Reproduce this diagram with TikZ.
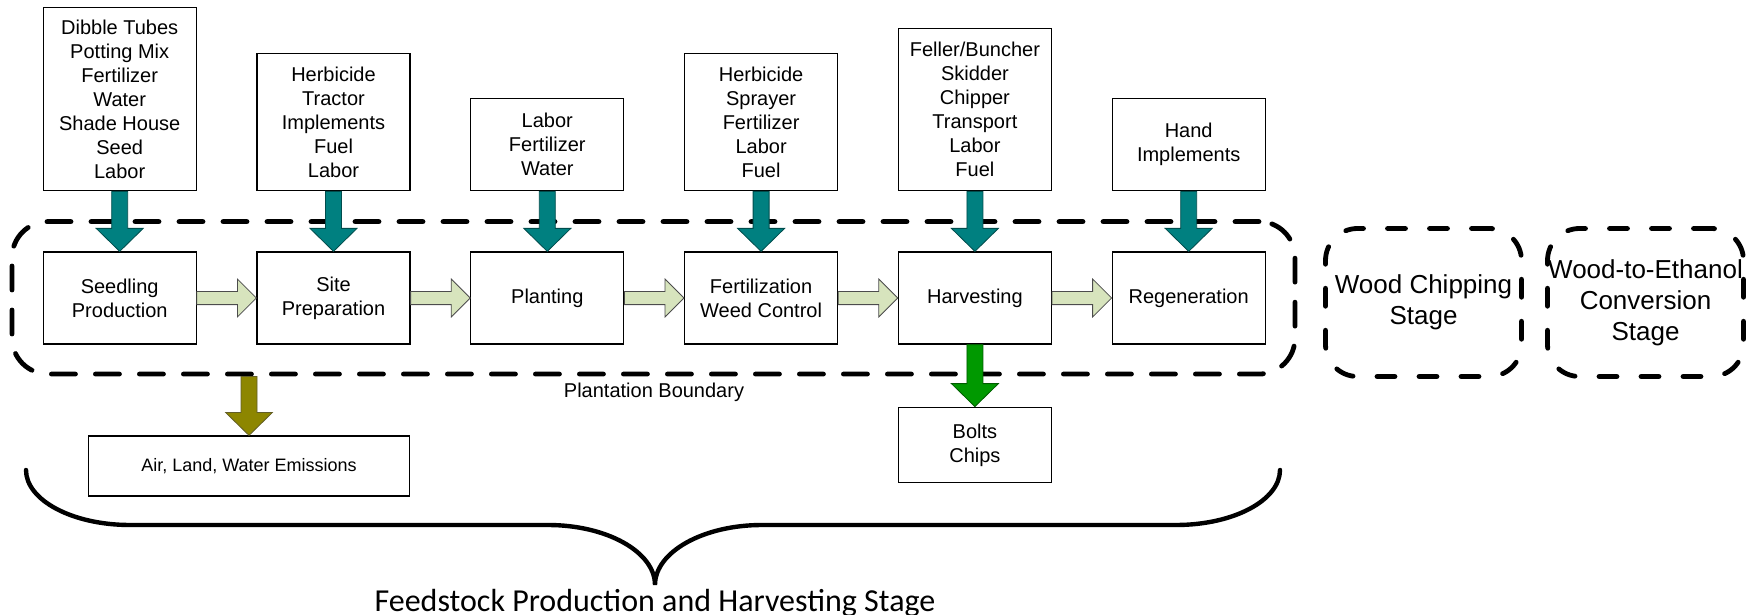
\documentclass[tikz,border=0pt]{standalone}
\usepackage{fontspec}
\setmainfont{Liberation Sans}
\newfontfamily\calfont{Carlito}
\usepackage{tikz}
\usetikzlibrary{positioning,calc}

\definecolor{flowfill}{HTML}{D7E4BD}
\definecolor{harvgreen}{HTML}{009900}

\newcommand{\blockdown}[3]{%
  \path[#1] let \p1=#2, \p2=#3 in
    (\x1-4pt,\y1) -- (\x1-4pt,\y2+11.5pt) -- (\x1-11.75pt,\y2+11.5pt)
    -- (\x1,\y2) -- (\x1+11.75pt,\y2+11.5pt) -- (\x1+4pt,\y2+11.5pt)
    -- (\x1+4pt,\y1) -- cycle;}
\newcommand{\blockright}[3]{%
  \path[#1] let \p1=#2, \p2=#3 in
    (\x1,\y1-3.3pt) -- (\x2-9.5pt,\y1-3.3pt) -- (\x2-9.5pt,\y1-9.5pt)
    -- (\x2,\y1) -- (\x2-9.5pt,\y1+9.5pt) -- (\x2-9.5pt,\y1+3.3pt)
    -- (\x1,\y1+3.3pt) -- cycle;}

\begin{document}
\begin{tikzpicture}[
  x=0.5pt, y=-0.5pt,
  node distance=30pt and 29.8pt,
  every node/.style={font=\fontsize{10}{12}\selectfont, align=center},
  proc/.style={draw, line width=0.6pt, minimum width=76.5pt,
    minimum height=46pt, inner sep=0pt},
  inbox/.style={draw, line width=0.6pt, minimum width=76.5pt, inner sep=0pt},
  boundary/.style={draw, line width=2.4pt, dash pattern=on 12pt off 10pt,
    line cap=round, rounded corners=18pt, minimum width=641.5pt,
    minimum height=76.25pt, inner sep=0pt},
  stage/.style={draw, line width=2.4pt, dash pattern=on 9pt off 12pt,
    line cap=round, rounded corners=16pt, minimum width=98pt,
    minimum height=74pt, inner sep=0pt, font=\fontsize{13}{15.5}\selectfont},
  flow/.style={fill=flowfill, draw=black!70, line width=0.4pt},
  feed/.style={fill=teal, draw=teal!60!black, line width=0.4pt},
  waste/.style={fill=olive, draw=olive!60!black, line width=0.4pt},
  prod/.style={fill=harvgreen, draw=harvgreen!60!black, line width=0.4pt},
  brace/.style={line width=2.2pt, line cap=round}
]
  \useasboundingbox (0,0) rectangle (1758,615);

  \node[boundary] (plantbd) at (653.5,297.8) {};
  \node (boundlbl) at (654,392) {Plantation Boundary};

  \node[proc] (seed) at (119.7,298) {Seedling\\Production};
  \node[proc, right=of seed] (site) {Site\\Preparation};
  \node[proc, right=of site] (plant) {Planting};
  \node[proc, right=of plant] (fert) {Fertilization\\Weed Control};
  \node[proc, right=of fert] (harv) {Harvesting};
  \node[proc, right=of harv] (regen) {Regeneration};

  \node[inbox, minimum height=91.5pt, above=of seed] (seedin)
    {Dibble Tubes\\Potting Mix\\Fertilizer\\Water\\Shade House\\Seed\\Labor};
  \node[inbox, minimum height=68.5pt, above=of site] (sitein)
    {Herbicide\\Tractor\\Implements\\Fuel\\Labor};
  \node[inbox, minimum height=46pt, above=of plant] (plantin)
    {Labor\\Fertilizer\\Water};
  \node[inbox, minimum height=68.5pt, above=of fert] (fertin)
    {Herbicide\\Sprayer\\Fertilizer\\Labor\\Fuel};
  \node[inbox, minimum height=81pt, above=of harv] (harvin)
    {Feller/Buncher\\Skidder\\Chipper\\Transport\\Labor\\Fuel};
  \node[inbox, minimum height=46pt, above=of regen] (regenin)
    {Hand\\Implements};

  \node[inbox, minimum width=160.5pt, minimum height=30pt,
    font=\fontsize{9}{11}\selectfont] (emis) at (249,466)
    {Air, Land, Water Emissions};
  \node[inbox, minimum height=37.8pt, below=31pt of harv] (bolts)
    {Bolts\\Chips};

  \node[stage] (chip) at (1423.5,302.5) {Wood Chipping\\Stage};
  \node[stage] (conv) at (1645.5,302.5) {Wood-to-Ethanol\\Conversion\\Stage};

  \blockdown{feed}{(seedin.south)}{(seed.north)}
  \blockdown{feed}{(sitein.south)}{(site.north)}
  \blockdown{feed}{(plantin.south)}{(plant.north)}
  \blockdown{feed}{(fertin.south)}{(fert.north)}
  \blockdown{feed}{(harvin.south)}{(harv.north)}
  \blockdown{feed}{(regenin.south)}{(regen.north)}

  \blockright{flow}{(seed.east)}{(site.west)}
  \blockright{flow}{(site.east)}{(plant.west)}
  \blockright{flow}{(plant.east)}{(fert.west)}
  \blockright{flow}{(fert.east)}{(harv.west)}
  \blockright{flow}{(harv.east)}{(regen.west)}

  \blockdown{waste}{(plantbd.south -| emis.north)}{(emis.north)}
  \blockdown{prod}{(harv.south)}{(bolts.north)}

  \draw[brace] (26,470) .. controls (26,500) and (72,525) .. (130,525)
    -- (548,525) .. controls (607,525) and (655,552) .. (655,585)
    .. controls (655,552) and (703,525) .. (762,525)
    -- (1176,525) .. controls (1234,525) and (1280,500) .. (1280,470);

  \node[anchor=base, font=\calfont\fontsize{16}{19}\selectfont] (stagelbl)
    at (655,611) {Feedstock Production and Harvesting Stage};
\end{tikzpicture}
\end{document}
